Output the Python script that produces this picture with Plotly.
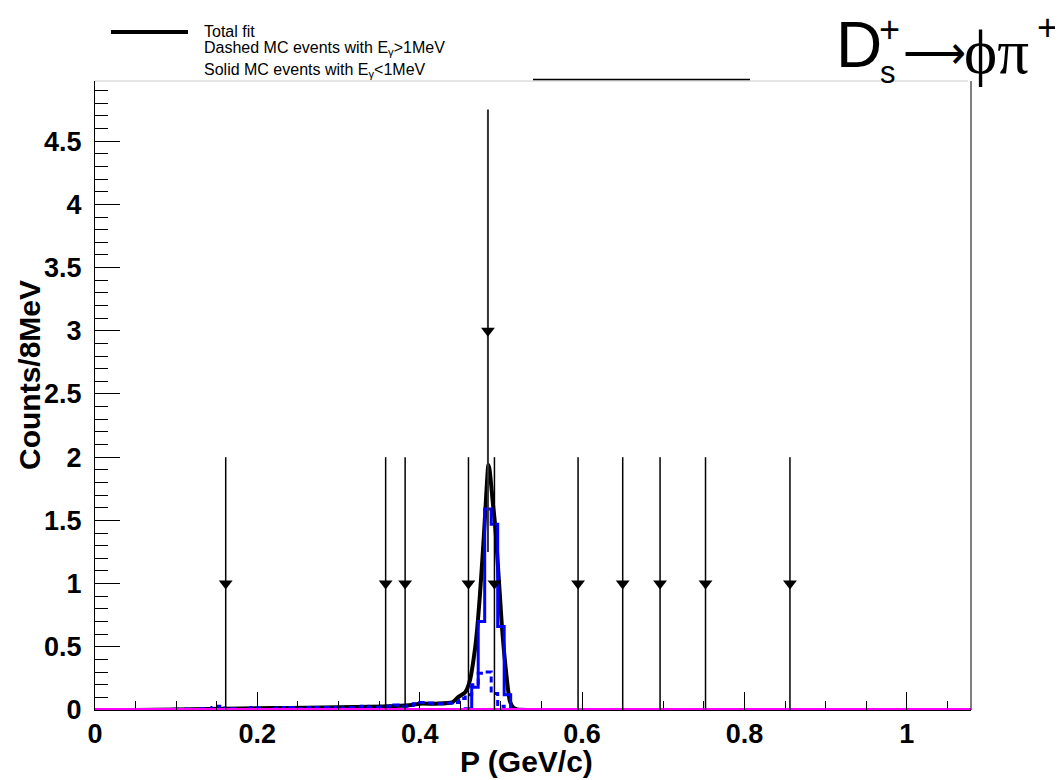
import plotly.graph_objects as go

# ---------------- data ----------------
# Total fit curve
fit_x = [0.000, 0.050, 0.100, 0.140, 0.180, 0.220, 0.260, 0.300, 0.340, 0.370, 0.390,
         0.400, 0.420, 0.440, 0.447, 0.456, 0.462, 0.468, 0.471, 0.474, 0.477, 0.479,
         0.481, 0.483, 0.4845, 0.486, 0.488, 0.490, 0.4926, 0.4947, 0.4967, 0.499,
         0.501, 0.504, 0.507, 0.509, 0.511, 0.515, 0.520, 0.550, 1.079]
fit_y = [0.000, 0.000, 0.003, 0.008, 0.012, 0.015, 0.018, 0.022, 0.026, 0.032, 0.040,
         0.050, 0.050, 0.060, 0.100, 0.140, 0.240, 0.480, 0.660, 0.900, 1.180, 1.380,
         1.600, 1.820, 1.940, 1.900, 1.780, 1.640, 1.480, 1.300, 1.100, 0.880,
         0.680, 0.450, 0.260, 0.150, 0.070, 0.020, 0.005, 0.000, 0.000]

# MC histograms, 8 MeV bins, left edges
bin_width = 0.008
solid_edges = [0.440, 0.448, 0.456, 0.464, 0.472, 0.480, 0.488, 0.496, 0.504, 0.512, 0.520]
solid_vals  = [0.000, 0.000, 0.010, 0.180, 0.700, 1.590, 1.470, 0.660, 0.120, 0.000, 0.000]

dashed_edges = [0.096 + 0.008 * i for i in range(54)]
dashed_vals = [0.005, 0.000, 0.008, 0.000, 0.010, 0.005, 0.020, 0.030, 0.000, 0.010,
               0.000, 0.010, 0.020, 0.010, 0.000, 0.010, 0.020, 0.010, 0.020, 0.010,
               0.020, 0.010, 0.020, 0.020, 0.010, 0.020, 0.010, 0.020, 0.020, 0.030,
               0.020, 0.020, 0.030, 0.030, 0.040, 0.030, 0.035, 0.050, 0.060, 0.055,
               0.050, 0.050, 0.055, 0.060, 0.090, 0.120, 0.200, 0.290, 0.300, 0.130,
               0.030, 0.010, 0.000, 0.000]

# flat (zero) function
flat_x = [0.0, 1.079]
flat_y = [0.0, 0.0]

# marker arrows: x position, top, bottom
arrow_x      = [0.161, 0.358, 0.382, 0.460, 0.492, 0.595, 0.650, 0.696, 0.752, 0.856]
arrow_top    = 2.0
arrow_bottom = 0.0
big_arrow_x = 0.484
big_arrow_top = 4.75
big_arrow_bottom = 1.25

x_range = [0.0, 1.079]
y_range = [0.0, 4.976]

# ---------------- figure ----------------
OFF = 8  # page body margin
W, H = 1063 - OFF, 780 - OFF
L, T = 95 - OFF, 81 - OFF
R = W - (971 - OFF)
B = H - (710 - OFF)
PW, PH = W - L - R, H - T - B


def px(xp):
    return (xp - OFF - L) / PW


def py(yp):
    return (H - B - (yp - OFF)) / PH


def hist_xy(edges, vals):
    xs = list(edges) + [edges[-1] + bin_width]
    ys = list(vals) + [vals[-1]]
    return xs, ys


fig = go.Figure()

fig.add_trace(go.Scatter(x=fit_x, y=fit_y, mode="lines",
                         line=dict(color="black", width=4, shape="spline", smoothing=0.6),
                         hoverinfo="skip"))

sx, sy = hist_xy(solid_edges, solid_vals)
fig.add_trace(go.Scatter(x=sx, y=sy, mode="lines",
                         line=dict(color="#0000ff", width=3, shape="hv"), hoverinfo="skip"))

dx, dy = hist_xy(dashed_edges, dashed_vals)
fig.add_trace(go.Scatter(x=dx, y=dy, mode="lines",
                         line=dict(color="#0000ff", width=3, shape="hv", dash="6px,4px"),
                         hoverinfo="skip"))

fig.add_trace(go.Scatter(x=flat_x, y=flat_y, mode="lines",
                         line=dict(color="#ff00ff", width=4), hoverinfo="skip"))

# arrows
for ax in arrow_x:
    fig.add_trace(go.Scatter(x=[ax, ax], y=[arrow_top, arrow_bottom], mode="lines",
                             line=dict(color="black", width=1.5), hoverinfo="skip"))
    fig.add_trace(go.Scatter(x=[ax], y=[(arrow_top + arrow_bottom) / 2], mode="markers",
                             marker=dict(symbol="triangle-down", size=12, color="black"),
                             hoverinfo="skip"))
fig.add_trace(go.Scatter(x=[big_arrow_x, big_arrow_x], y=[big_arrow_top, big_arrow_bottom],
                         mode="lines", line=dict(color="#333333", width=2), hoverinfo="skip"))
fig.add_trace(go.Scatter(x=[big_arrow_x], y=[(big_arrow_top + big_arrow_bottom) / 2],
                         mode="markers",
                         marker=dict(symbol="triangle-down", size=12, color="black"),
                         hoverinfo="skip"))

tickfont = dict(family="Liberation Sans, Arial, sans-serif", size=27, color="black", weight="bold")

fig.update_layout(
    width=W, height=H,
    margin=dict(l=L, r=R, t=T, b=B, pad=0),
    paper_bgcolor="white", plot_bgcolor="white",
    showlegend=False,
    font=dict(family="Liberation Sans, Arial, sans-serif", color="black"),
    xaxis=dict(range=x_range, dtick=0.2, tick0=0, showgrid=False, zeroline=False,
               showline=True, linecolor="black", linewidth=1,
               ticks="inside", ticklen=18, tickwidth=1, tickcolor="black",
               tickfont=tickfont, ticklabelstandoff=0,
               minor=dict(dtick=0.05, ticks="inside", ticklen=9, tickcolor="black", tickwidth=1,
                          showgrid=False)),
    yaxis=dict(range=y_range, dtick=0.5, tick0=0, showgrid=False, zeroline=False,
               showline=True, linecolor="black", linewidth=1,
               ticks="inside", ticklen=25, tickwidth=1, tickcolor="black",
               tickfont=tickfont, ticklabelstandoff=7,
               minor=dict(dtick=0.1, ticks="inside", ticklen=13, tickcolor="black", tickwidth=1,
                          showgrid=False)),
)

shapes = [
    # right frame edge
    dict(type="line", xref="paper", yref="paper", x0=1, x1=1, y0=0, y1=1,
         line=dict(color="black", width=1)),
    # light grey top line (legend box border)
    dict(type="line", xref="paper", yref="paper", x0=0, x1=px(968), y0=1, y1=1,
         line=dict(color="#cccccc", width=1)),
    # short black line near top
    dict(type="line", xref="paper", yref="paper", x0=px(533), x1=px(750), y0=py(79.5), y1=py(79.5),
         line=dict(color="black", width=1.5)),
    # legend line sample
    dict(type="line", xref="paper", yref="paper", x0=px(111), x1=px(188), y0=py(32), y1=py(32),
         line=dict(color="black", width=4)),
]
fig.update_layout(shapes=shapes)

ann = []
lf = dict(size=16, color="black", family="Liberation Sans, Arial, sans-serif")
ann.append(dict(text="Total fit", x=px(202), y=py(31), xref="paper", yref="paper",
                xanchor="left", yanchor="middle", showarrow=False, font=lf))
ann.append(dict(text="Dashed MC events with E<sub>γ</sub>&gt;1MeV", x=px(202), y=py(49),
                xref="paper", yref="paper", xanchor="left", yanchor="middle",
                showarrow=False, font=lf))
ann.append(dict(text="Solid MC events with E<sub>γ</sub>&lt;1MeV", x=px(202), y=py(70),
                xref="paper", yref="paper", xanchor="left", yanchor="middle",
                showarrow=False, font=lf))

# axis titles
af = dict(size=30, color="black", family="Liberation Sans, Arial, sans-serif", weight="bold")
ann.append(dict(text="P (GeV/c)", x=px(526), y=py(761), xref="paper", yref="paper",
                xanchor="center", yanchor="middle", showarrow=False, font=af))
ann.append(dict(text="Counts/8MeV", x=px(29), y=py(375), xref="paper", yref="paper",
                xanchor="center", yanchor="middle", showarrow=False, font=af, textangle=-90))

# big title D_s^+ -> phi pi^+
tf = dict(color="black", family="Liberation Sans, Arial, sans-serif")
ann.append(dict(text="D", x=px(834), y=py(45), xref="paper", yref="paper",
                xanchor="left", yanchor="middle", showarrow=False, font=dict(size=64, **tf)))
ann.append(dict(text="+", x=px(877), y=py(29), xref="paper", yref="paper",
                xanchor="left", yanchor="middle", showarrow=False, font=dict(size=36, **tf)))
ann.append(dict(text="s", x=px(878), y=py(73), xref="paper", yref="paper",
                xanchor="left", yanchor="middle", showarrow=False, font=dict(size=31, **tf)))
ann.append(dict(text="⟶", x=px(901), y=py(52), xref="paper", yref="paper",
                xanchor="left", yanchor="middle", showarrow=False, font=dict(size=44, **tf)))
ann.append(dict(text="ϕπ", x=px(962), y=py(52), xref="paper", yref="paper",
                xanchor="left", yanchor="middle", showarrow=False,
                font=dict(size=63, color="black", family="Liberation Serif, DejaVu Serif, serif")))
ann.append(dict(text="+", x=px(1035), y=py(27), xref="paper", yref="paper",
                xanchor="left", yanchor="middle", showarrow=False, font=dict(size=36, **tf)))
fig.update_layout(annotations=ann)

fig.write_html("out.html")
